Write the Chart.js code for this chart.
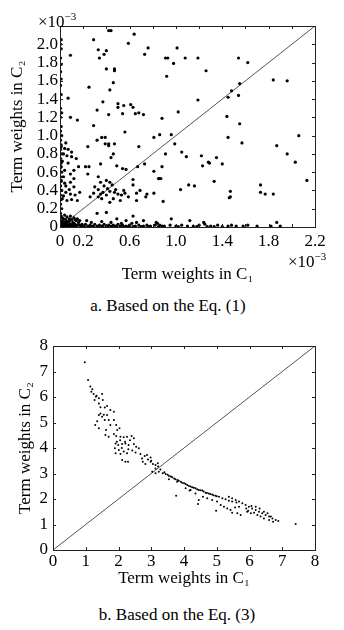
<!DOCTYPE html>
<html>
<head>
<meta charset="utf-8">
<script src="https://cdn.jsdelivr.net/npm/chart.js@4.4.1/dist/chart.umd.min.js"></script>
<style>
html,body{margin:0;padding:0;background:#fff;width:344px;height:630px;overflow:hidden;font-family:"Liberation Serif",serif;color:#000;}
canvas{position:absolute;left:0;}
.t{position:absolute;font-family:"Liberation Serif",serif;font-size:17px;white-space:nowrap;line-height:1;}
.t sup{font-size:11px;vertical-align:7px;}
</style>
</head>
<body>
<canvas id="ca" width="344" height="287" style="top:0px"></canvas>
<canvas id="cb" width="344" height="277" style="top:320px"></canvas>
<div class="t" style="left:38px;top:11px;">×10<sup>−3</sup></div>
<div class="t" style="left:288px;top:251px;">×10<sup>−3</sup></div>
<div class="t" style="left:0;width:336px;text-align:center;top:297px;">a. Based on the Eq. (1)</div>
<div class="t" style="left:0;width:354px;text-align:center;top:606px;">b. Based on the Eq. (3)</div>
<script>
// ---------- Chart a (Eq. 1), values in units of 1e-3 ----------
const xTickLabelsA = ['0','0.2','0.6','1.0','1.4','1.8','2.2'];
const yTickLabelsA = ['0','0.2','0.4','0.6','0.8','1.0','1.2','1.4','1.6','1.8','2.0'];
const diagA = [[0,0],[2.2,2.2]];
const pointsA = [
 // upper scattered
 [0.29,2.05],[0.42,2.15],[0.44,2.15],[0.64,2.11],[0.59,2.01],[0.09,1.88],
 [0.33,1.94],[0.34,1.85],[0.38,1.89],[0.40,1.93],[0.73,1.89],[0.76,1.96],
 [0.91,1.85],[0.93,1.85],[0.98,1.79],[1.01,1.96],[1.08,1.85],[1.19,1.85],[1.26,1.71],[1.54,1.85],[1.62,1.80],
 [0.40,1.73],[0.47,1.73],[0.47,1.71],[0.46,1.58],[0.43,1.50],[0.25,1.53],[0.07,1.41],[0.92,1.65],[1.19,1.39],
 [1.84,1.61],[1.96,1.60],[1.55,1.57],[1.48,1.49],[1.54,1.44],[1.45,1.42],
 [0.37,1.37],[0.32,1.28],[0.50,1.35],[0.50,1.31],[0.55,1.33],[0.61,1.34],[0.63,1.31],[0.65,1.24],[0.68,1.25],
 [0.72,1.23],[0.42,1.23],[0.54,1.24],[0.09,1.20],[0.15,1.17],[0.29,1.11],[1.02,1.26],[0.88,1.19],[1.44,1.21],[1.55,1.13],
 [0.56,1.04],[0.81,0.98],[0.86,1.01],[0.96,1.01],[0.99,0.91],[1.45,0.98],[1.57,0.92],[2.06,1.00],[1.87,0.89],
 [0.32,0.95],[0.36,0.98],[0.39,0.98],[0.39,0.91],[0.42,0.91],[0.47,0.91],[0.24,0.88],[0.42,0.89],
 [0.68,0.88],[0.91,0.80],[1.05,0.82],[1.09,0.77],[1.22,0.78],[1.35,0.76],[1.96,0.80],[2.03,0.71],[2.13,0.51],
 [1.23,0.67],[1.28,0.71],[1.29,0.70],[1.40,0.69],
 [0.73,0.69],[0.67,0.66],[0.88,0.66],[0.81,0.61],[0.86,0.53],[0.87,0.53],[0.85,0.53],
 [0.63,0.52],[0.54,0.64],[0.57,0.63],[0.49,0.67],[0.35,0.69],[0.22,0.66],[0.25,0.66],[0.24,0.58],[0.46,0.80],[0.44,0.76],
 [1.11,0.46],[1.16,0.45],[1.33,0.50],[1.47,0.39],[1.47,0.33],[1.46,0.32],[1.73,0.46],[1.73,0.38],[1.77,0.36],[1.84,0.36],
 [0.89,0.28],[1.04,0.41],[0.63,0.46],[0.69,0.40],[0.66,0.37],[0.66,0.29],[0.75,0.36],[0.81,0.37],[0.74,0.33],
 // cluster 0.25-0.6
 [0.33,0.55],[0.35,0.49],[0.40,0.51],[0.43,0.49],[0.45,0.46],[0.30,0.44],[0.33,0.41],[0.37,0.38],[0.40,0.35],
 [0.35,0.36],[0.29,0.37],[0.43,0.39],[0.47,0.38],[0.50,0.36],[0.53,0.35],[0.56,0.37],[0.59,0.33],[0.46,0.31],
 [0.52,0.29],[0.33,0.33],[0.26,0.33],[0.43,0.27],[0.41,0.42],[0.38,0.45],[0.48,0.41],[0.55,0.40],[0.36,0.31],
 // near left axis band
 [0.01,0.88],[0.04,0.86],[0.07,0.85],[0.10,0.82],[0.03,0.80],[0.06,0.78],[0.10,0.77],[0.14,0.75],
 [0.01,0.66],[0.04,0.62],[0.09,0.58],[0.12,0.62],[0.16,0.66],[0.01,0.51],[0.04,0.48],[0.09,0.49],[0.12,0.44],
 [0.01,0.40],[0.05,0.38],[0.09,0.36],[0.13,0.35],[0.17,0.38],[0.02,0.31],[0.06,0.29],[0.10,0.30],[0.15,0.29],
 [0.03,0.55],[0.07,0.70],[0.02,0.72],[0.05,0.45],[0.08,0.41],[0.03,0.34],[0.12,0.53],[0.05,0.92],
 // on the y axis
 [0.005,0.15],[0.015,0.20],[0.005,0.25],[0.01,0.30],[0.005,0.35],[0.015,0.40],[0.005,0.45],[0.01,0.50],
 [0.005,0.55],[0.015,0.60],[0.005,0.65],[0.01,0.70],[0.005,0.75],[0.015,0.80],[0.005,0.85],[0.01,0.90],
 [0.005,0.95],[0.015,1.00],[0.005,1.05],[0.01,1.10],[0.005,1.20],[0.015,1.25],[0.005,1.30],[0.01,1.45],
 [0.005,1.55],[0.01,1.62],[0.005,1.70],[0.01,1.78],[0.005,1.85],[0.01,1.95],[0.005,2.00],[0.01,2.05],
 // low points
 [0.32,0.15],[0.40,0.16],[0.23,0.07],[0.63,0.12],[0.57,0.07],[0.83,0.05],[0.96,0.09],[1.12,0.07],[1.24,0.05],
 [1.87,0.05],[0.49,0.09],[0.72,0.07],[0.27,0.05],[0.36,0.06],[0.44,0.05],[0.53,0.04],[0.66,0.05],
 // origin cluster
 [0.01,0.01],[0.02,0.03],[0.03,0.01],[0.04,0.05],[0.05,0.02],[0.06,0.04],[0.07,0.01],[0.08,0.06],[0.09,0.03],
 [0.10,0.02],[0.11,0.05],[0.12,0.01],[0.13,0.03],[0.14,0.07],[0.02,0.07],[0.03,0.09],[0.05,0.08],[0.06,0.11],
 [0.08,0.09],[0.10,0.08],[0.12,0.10],[0.01,0.12],[0.04,0.13],[0.15,0.02],[0.16,0.05],[0.18,0.01],[0.01,0.05],
 [0.02,0.10],[0.07,0.06],[0.09,0.12],[0.11,0.02],[0.03,0.04],[0.05,0.06],[0.13,0.08],[0.15,0.09],[0.02,0.015],
 [0.06,0.015],[0.09,0.01],[0.14,0.015],[0.04,0.02],[0.08,0.025],[0.12,0.04],[0.19,0.03],[0.17,0.07],
 // along x axis
 [0.17,0.02],[0.20,0.01],[0.22,0.03],[0.24,0.01],[0.26,0.02],[0.28,0.01],[0.30,0.03],[0.32,0.01],[0.34,0.02],
 [0.36,0.01],[0.38,0.03],[0.40,0.01],[0.42,0.02],[0.44,0.01],[0.46,0.02],[0.48,0.01],[0.50,0.03],[0.52,0.01],
 [0.54,0.02],[0.57,0.01],[0.60,0.02],[0.62,0.04],[0.65,0.01],[0.68,0.02],[0.72,0.01],[0.75,0.02],[0.78,0.01],
 [0.82,0.02],[0.84,0.04],[0.86,0.02],[0.90,0.01],[0.95,0.02],[1.00,0.01],[1.05,0.02],[1.10,0.01],[1.15,0.01],
 [1.20,0.02],[1.25,0.03],[1.30,0.01],[1.36,0.02],[1.45,0.01],[1.48,0.02],[1.52,0.01],[1.58,0.01],[1.62,0.02],
 [1.70,0.01],[1.82,0.01],[1.90,0.01],[0.21,0.005],[0.25,0.005],[0.29,0.005],[0.33,0.005],[0.37,0.005],
 [0.41,0.005],[0.45,0.005],[0.49,0.005],[0.55,0.005],[0.59,0.005],[0.63,0.005],[0.70,0.005],[0.76,0.005],
 [0.85,0.005],[0.88,0.01],[1.02,0.005],[1.18,0.005],[1.27,0.005],[1.33,0.005],[1.40,0.005]
];

// ---------- Chart b (Eq. 3) ----------
const tickLabelsB = ['0','1','2','3','4','5','6','7','8'];
const diagB = [[0,0],[8,8]];
const pointsB = [
 [0.97,7.36],[1.07,6.67],[1.14,6.41],[1.17,6.21],[1.24,6.12],[1.31,6.01],[1.40,5.95],[1.50,6.12],[1.52,5.88],
 [1.27,5.88],[1.40,5.75],[1.58,5.59],[1.65,5.65],[1.40,5.29],[1.50,5.23],[1.58,5.10],[1.65,5.29],[1.75,5.49],
 [1.86,5.42],[1.70,5.10],[1.86,5.10],[1.93,4.90],[1.75,4.90],[1.29,4.90],[1.40,4.77],[1.62,4.71],[1.96,4.71],
 [2.03,4.77],[1.45,5.35],[1.55,5.30],[1.35,5.05],[1.20,6.30],[1.33,6.05],[1.45,5.60],
 [1.60,4.51],[1.70,4.44],[1.86,4.55],[1.93,4.47],[2.06,4.44],[2.16,4.42],[2.26,4.44],[2.40,4.47],[2.47,4.38],
 [1.91,4.18],[1.99,4.12],[2.11,4.16],[2.21,4.18],[2.31,4.12],[2.47,4.16],[2.54,4.05],[2.62,3.99],
 [1.89,3.99],[2.01,3.92],[2.16,3.86],[1.91,3.79],[2.06,3.76],[2.26,3.79],[2.42,3.90],[2.52,3.82],[2.67,3.76],
 [2.80,3.69],[2.87,3.73],[2.98,3.63],[1.95,4.25],[2.05,4.30],[2.20,4.25],[2.35,4.30],[2.10,4.00],[2.30,3.95],
 [2.11,3.53],[2.21,3.46],[2.29,3.46],[2.72,3.59],[2.74,3.46],[2.82,3.37],[2.98,3.46],[3.05,3.37],[3.13,3.33],
 [3.13,3.20],[3.21,3.27],[3.28,3.16],[3.23,3.07],[3.03,3.07],[3.13,3.01],[2.90,3.55],[3.00,3.50],[3.20,3.40],
 [3.35,3.01],[3.44,2.98],[3.54,2.90],[3.64,2.85],[3.74,2.77],[3.84,2.72],[3.94,2.64],[4.05,2.59],[4.15,2.51],
 [4.25,2.46],[4.35,2.42],[4.45,2.35],[4.56,2.33],[4.66,2.25],[4.76,2.22],[4.86,2.18],[4.96,2.13],[5.07,2.09],
 [5.17,2.03],[5.27,1.99],[5.37,1.93],[5.47,1.90],[5.60,1.86],
 [3.40,3.05],[3.50,2.95],[3.60,2.88],[3.70,2.80],[3.80,2.75],[3.90,2.68],[4.00,2.62],[4.10,2.55],[4.20,2.49],
 [4.30,2.44],[4.40,2.38],[4.50,2.34],[4.60,2.29],[4.70,2.24],[4.80,2.20],[4.90,2.15],[5.00,2.11],
 [3.54,2.77],[3.79,2.68],[4.05,2.42],[4.20,2.35],[4.35,2.22],[4.45,1.96],[4.43,1.80],[4.17,2.33],[4.58,2.09],
 [4.71,2.03],[4.86,1.96],[5.01,1.90],[5.12,1.76],[5.22,1.70],[5.32,1.63],[5.42,1.57],[5.47,1.46],[5.63,1.44],
 [5.73,1.37],[4.98,1.54],[3.76,2.13],[5.56,1.67],[5.68,1.70],
 [5.37,2.09],[5.47,2.03],[5.58,1.96],[5.68,1.90],[5.78,1.83],[5.88,1.76],[5.98,1.70],[6.08,1.63],[6.19,1.57],
 [6.29,1.50],[6.39,1.44],[6.49,1.37],[6.60,1.31],[6.70,1.24],[6.80,1.18],[6.88,1.14],
 [5.93,1.50],[6.04,1.44],[6.14,1.46],[6.24,1.37],[6.34,1.31],[6.44,1.24],[6.60,1.18],[6.72,1.11],[5.90,1.63],
 [5.96,1.54],[6.06,1.73],[6.19,1.70],[6.31,1.63],[6.44,1.50],[6.55,1.44],[6.65,1.31],[7.41,1.02]
];

const FONT = 'Liberation Serif';
function toXY(arr){ return arr.map(p => ({x:p[0], y:p[1]})); }

const frameTicks = {
  id:'frameTicks',
  afterDraw(chart, args, opts){
    const {ctx, chartArea:a} = chart;
    const xs = chart.scales.x, ys = chart.scales.y;
    ctx.save();
    ctx.strokeStyle = '#222'; ctx.lineWidth = 1;
    ctx.strokeRect(Math.round(a.left)+0.5, Math.round(a.top)+0.5, Math.round(a.right-a.left), Math.round(a.bottom-a.top));
    const L = opts.len || 3;
    ctx.beginPath();
    xs.ticks.forEach(t => {
      const px = Math.round(xs.getPixelForValue(t.value))+0.5;
      ctx.moveTo(px, a.bottom); ctx.lineTo(px, a.bottom - L);
      ctx.moveTo(px, a.top); ctx.lineTo(px, a.top + L);
    });
    ys.ticks.forEach(t => {
      const py = Math.round(ys.getPixelForValue(t.value))+0.5;
      ctx.moveTo(a.left, py); ctx.lineTo(a.left + L, py);
      ctx.moveTo(a.right, py); ctx.lineTo(a.right - L, py);
    });
    ctx.stroke();
    ctx.restore();
  }
};

function makeChart(id, cfg){
  const c = cfg;
  return new Chart(document.getElementById(id), {
    type:'scatter',
    data:{datasets:[
      {data: toXY(c.points), pointRadius:c.r, pointBackgroundColor:'#000', pointBorderWidth:0, pointHoverRadius:c.r},
      {type:'line', data: toXY(c.diag), borderColor:'#555', borderWidth:1, pointRadius:0, fill:false}
    ]},
    options:{
      responsive:false, animation:false, devicePixelRatio:1,
      layout:{padding:{top:26, right:29, left:0, bottom:0}},
      plugins:{legend:{display:false}, tooltip:{enabled:false}, frameTicks:{len:3}},
      scales:{
        x:{type:'linear', min:0, max:c.max,
          grid:{display:false, drawTicks:false, tickLength:0}, border:{display:false},
          ticks:{stepSize:c.step, autoSkip:false, maxRotation:0, color:'#000', padding:c.xtp,
            font:{family:FONT, size:17},
            callback:(v)=>c.xlab(v)},
          title:{display:true, text:'Term weights in C₁', color:'#000', font:{family:FONT, size:17}, padding:{top:0,bottom:c.xtitlePad}},
          afterFit:(s)=>{ s.height = c.xh; s.paddingLeft = 0; s.paddingRight = 0; }
        },
        y:{type:'linear', min:0, max:c.max,
          grid:{display:false, drawTicks:false, tickLength:0}, border:{display:false},
          ticks:{stepSize:c.step, autoSkip:false, color:'#000', padding:c.ytp,
            font:{family:FONT, size:17},
            callback:(v)=>c.ylab(v)},
          title:{display:true, text:'Term weights in C₂', color:'#000', font:{family:FONT, size:17}, padding:{top:c.ytitlePad,bottom:0}},
          afterFit:(s)=>{ s.width = c.yw; s.paddingTop = 0; s.paddingBottom = 0; }
        }
      }
    },
    plugins:[frameTicks]
  });
}

makeChart('ca', {
  points: pointsA, diag: diagA, r:1.6, max:2.2, step:0.2,
  xlab:(v)=>{ const s = (Math.abs(v)<1e-9)?'0':v.toFixed(1); return xTickLabelsA.includes(s)?s:''; },
  ylab:(v)=>{ const s = (Math.abs(v)<1e-9)?'0':v.toFixed(1); return yTickLabelsA.includes(s)?s:''; },
  xh:60, yw:60, xtp:4, ytp:2, xtitlePad:2, ytitlePad:7
});

makeChart('cb', {
  points: pointsB, diag: diagB, r:1.0, max:8, step:1,
  xlab:(v)=>{ const s = String(Math.round(v)); return tickLabelsB.includes(s)?s:''; },
  ylab:(v)=>{ const s = String(Math.round(v)); return tickLabelsB.includes(s)?s:''; },
  xh:47, yw:53, xtp:1, ytp:5, xtitlePad:8, ytitlePad:15
});
</script>
</body>
</html>
